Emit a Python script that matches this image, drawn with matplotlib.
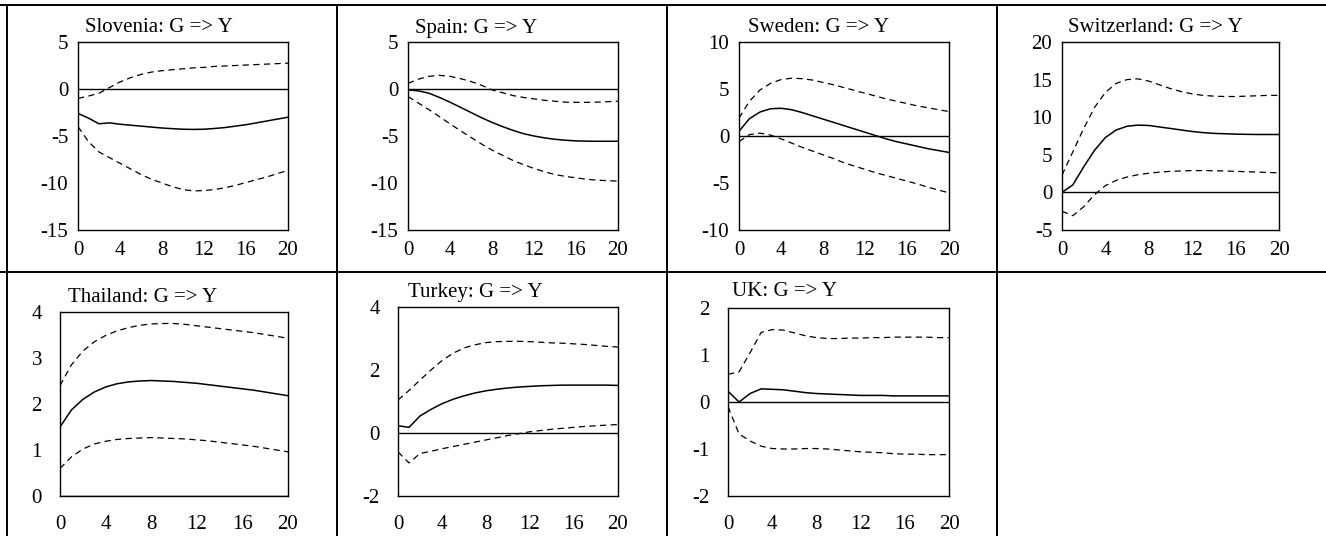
import numpy as np
import matplotlib.pyplot as plt
from matplotlib.lines import Line2D

# ------------------------------------------------------------------
# Data: impulse responses of Y to a G shock, horizons 0..20
# (point estimate plus lower / upper bands)
# ------------------------------------------------------------------
horizon = np.arange(21)
x_ticks = [0, 4, 8, 12, 16, 20]

slovenia_irf = [-2.6, -3.1, -3.7, -3.6, -3.75, -3.85, -3.95, -4.05, -4.15, -4.22, -4.28,
                -4.3, -4.28, -4.2, -4.1, -3.95, -3.8, -3.6, -3.4, -3.2, -3.0]
slovenia_hi = [-1.0, -0.75, -0.45, 0.15, 0.75, 1.2, 1.55, 1.8, 1.95, 2.05, 2.15,
               2.25, 2.3, 2.4, 2.45, 2.5, 2.55, 2.6, 2.65, 2.7, 2.75]
slovenia_lo = [-4.0, -5.6, -6.7, -7.3, -7.9, -8.5, -9.1, -9.6, -10.0, -10.4, -10.7,
               -10.85, -10.8, -10.7, -10.5, -10.25, -9.95, -9.65, -9.35, -9.0, -8.65]

spain_irf = [-0.1, -0.2, -0.45, -0.9, -1.4, -1.95, -2.5, -3.05, -3.55, -4.0, -4.4,
             -4.75, -5.0, -5.2, -5.35, -5.45, -5.52, -5.55, -5.56, -5.56, -5.56]
spain_hi = [0.6, 1.05, 1.35, 1.45, 1.35, 1.1, 0.8, 0.4, -0.1, -0.4, -0.7,
            -0.9, -1.05, -1.2, -1.3, -1.4, -1.42, -1.42, -1.4, -1.35, -1.3]
spain_lo = [-0.8, -1.5, -2.2, -2.95, -3.7, -4.45, -5.15, -5.85, -6.5, -7.05, -7.6,
            -8.05, -8.45, -8.8, -9.1, -9.3, -9.45, -9.6, -9.7, -9.75, -9.8]

sweden_irf = [0.5, 1.85, 2.55, 2.9, 2.95, 2.8, 2.5, 2.15, 1.8, 1.45, 1.1,
              0.75, 0.4, 0.05, -0.3, -0.6, -0.85, -1.1, -1.35, -1.55, -1.75]
sweden_hi = [1.9, 3.7, 4.9, 5.6, 6.0, 6.15, 6.1, 5.95, 5.7, 5.45, 5.15,
             4.85, 4.55, 4.25, 3.95, 3.7, 3.45, 3.2, 3.0, 2.8, 2.6]
sweden_lo = [-0.6, 0.15, 0.3, 0.1, -0.3, -0.75, -1.2, -1.6, -2.0, -2.4, -2.85,
             -3.2, -3.55, -3.9, -4.2, -4.5, -4.8, -5.1, -5.45, -5.75, -6.05]

switzerland_irf = [0.0, 1.0, 3.4, 5.6, 7.3, 8.3, 8.8, 8.95, 8.9, 8.7, 8.5,
                   8.3, 8.1, 7.95, 7.85, 7.8, 7.75, 7.72, 7.7, 7.7, 7.7]
switzerland_hi = [2.3, 5.4, 8.5, 11.3, 13.3, 14.5, 15.0, 15.1, 14.8, 14.3, 13.8,
                  13.4, 13.1, 12.9, 12.8, 12.75, 12.75, 12.8, 12.85, 12.9, 12.9]
switzerland_lo = [-2.5, -3.1, -1.9, -0.3, 0.9, 1.6, 2.05, 2.35, 2.55, 2.7, 2.8,
                  2.85, 2.9, 2.9, 2.88, 2.85, 2.8, 2.75, 2.7, 2.65, 2.6]

thailand_irf = [1.5, 1.87, 2.1, 2.26, 2.37, 2.44, 2.48, 2.5, 2.51, 2.5, 2.49,
                2.47, 2.45, 2.42, 2.39, 2.36, 2.33, 2.3, 2.26, 2.22, 2.18]
thailand_hi = [2.4, 2.85, 3.15, 3.35, 3.49, 3.59, 3.66, 3.71, 3.74, 3.75, 3.75,
               3.73, 3.7, 3.67, 3.64, 3.61, 3.58, 3.55, 3.51, 3.47, 3.43]
thailand_lo = [0.6, 0.85, 1.02, 1.13, 1.19, 1.23, 1.25, 1.26, 1.27, 1.26, 1.25,
               1.24, 1.22, 1.2, 1.17, 1.14, 1.11, 1.08, 1.04, 1.0, 0.96]

turkey_irf = [0.23, 0.18, 0.54, 0.75, 0.93, 1.07, 1.18, 1.27, 1.34, 1.39, 1.43,
              1.46, 1.48, 1.5, 1.51, 1.52, 1.52, 1.52, 1.52, 1.52, 1.51]
turkey_hi = [1.05, 1.35, 1.68, 2.0, 2.3, 2.53, 2.7, 2.8, 2.87, 2.9, 2.91,
             2.91, 2.9, 2.88, 2.86, 2.85, 2.83, 2.81, 2.78, 2.75, 2.73]
turkey_lo = [-0.6, -0.95, -0.65, -0.58, -0.5, -0.43, -0.36, -0.29, -0.22, -0.15, -0.08,
             -0.02, 0.04, 0.08, 0.12, 0.15, 0.18, 0.21, 0.23, 0.25, 0.27]

uk_irf = [0.23, 0.0, 0.18, 0.28, 0.27, 0.26, 0.23, 0.2, 0.18, 0.17, 0.16,
          0.15, 0.14, 0.14, 0.14, 0.13, 0.13, 0.13, 0.13, 0.13, 0.13]
uk_hi = [0.59, 0.64, 1.05, 1.48, 1.54, 1.53, 1.47, 1.41, 1.37, 1.35, 1.35,
         1.36, 1.36, 1.37, 1.37, 1.38, 1.38, 1.38, 1.38, 1.37, 1.37]
uk_lo = [-0.1, -0.68, -0.83, -0.94, -0.99, -1.0, -1.0, -0.99, -0.99, -1.0, -1.02,
         -1.04, -1.06, -1.07, -1.08, -1.1, -1.11, -1.11, -1.12, -1.12, -1.12]

titles = ['Slovenia: G => Y', 'Spain: G => Y', 'Sweden: G => Y',
          'Switzerland: G => Y', 'Thailand: G => Y', 'Turkey: G => Y',
          'UK: G => Y']

y_ticks = [[-15, -10, -5, 0, 5], [-15, -10, -5, 0, 5], [-10, -5, 0, 5, 10],
           [-5, 0, 5, 10, 15, 20], [0, 1, 2, 3, 4], [-2, 0, 2, 4],
           [-2, -1, 0, 1, 2]]

series = [
    (slovenia_irf, slovenia_lo, slovenia_hi),
    (spain_irf, spain_lo, spain_hi),
    (sweden_irf, sweden_lo, sweden_hi),
    (switzerland_irf, switzerland_lo, switzerland_hi),
    (thailand_irf, thailand_lo, thailand_hi),
    (turkey_irf, turkey_lo, turkey_hi),
    (uk_irf, uk_lo, uk_hi),
]

# ------------------------------------------------------------------
# Layout (pixels, origin top-left): axes box, title anchor, label pads
# ------------------------------------------------------------------
W, Hpx = 1326, 536
_BOXES = [(78, 42, 288, 230), (408, 42, 618, 230), (739, 42, 949, 230),
          (1062, 42, 1279, 230), (60, 312, 288, 496), (398, 307, 618, 496),
          (728, 308, 949, 496)]
_TITLE_XY = [(85, 28), (415, 28), (748, 28), (1068, 28),
             (68, 297), (408, 292), (732, 292)]
_PADS = [(7, 8)] * 4 + [(13, 14)] * 3      # (y pad, x pad) in points

plt.rcParams['font.family'] = ['Liberation Serif', 'DejaVu Serif']
plt.rcParams['font.size'] = 15
plt.rcParams['axes.unicode_minus'] = False

fig = plt.figure(figsize=(W / 100, Hpx / 100), dpi=100)

for (l, t, r, b), (tx, ty), (ypad, xpad), title, yt, (irf, lo, hi) in zip(
        _BOXES, _TITLE_XY, _PADS, titles, y_ticks, series):
    ax = fig.add_axes([l / W, 1 - b / Hpx, (r - l) / W, (b - t) / Hpx])
    ax.axhline(0, color='black', linewidth=1.0, zorder=1)
    ax.plot(horizon, irf, color='black', linewidth=1.1)
    ax.plot(horizon, hi, color='black', linewidth=0.9, dashes=(5, 3.5))
    ax.plot(horizon, lo, color='black', linewidth=0.9, dashes=(5, 3.5))
    ax.set_xlim(0, 20)
    ax.set_ylim(yt[0], yt[-1])
    ax.set_xticks(x_ticks)
    ax.set_yticks(yt)
    ax.tick_params(axis='y', length=0, pad=ypad, labelsize=15)
    ax.tick_params(axis='x', length=0, pad=xpad, labelsize=15)
    for sp in ax.spines.values():
        sp.set_linewidth(1.0)
    fig.text(tx / W, 1 - ty / Hpx, title, ha='left', va='center', fontsize=15)

# table grid lines around the panels
def _line(x0, y0, x1, y1):
    fig.add_artist(Line2D([x0 / W, x1 / W], [1 - y0 / Hpx, 1 - y1 / Hpx],
                          color='black', linewidth=1.4,
                          transform=fig.transFigure))

_line(0, 5, W, 5)
_line(0, 272, W, 272)
for xv in (7, 337, 667, 997):
    _line(xv, 5, xv, Hpx)

fig.savefig('out.png', dpi=100)
